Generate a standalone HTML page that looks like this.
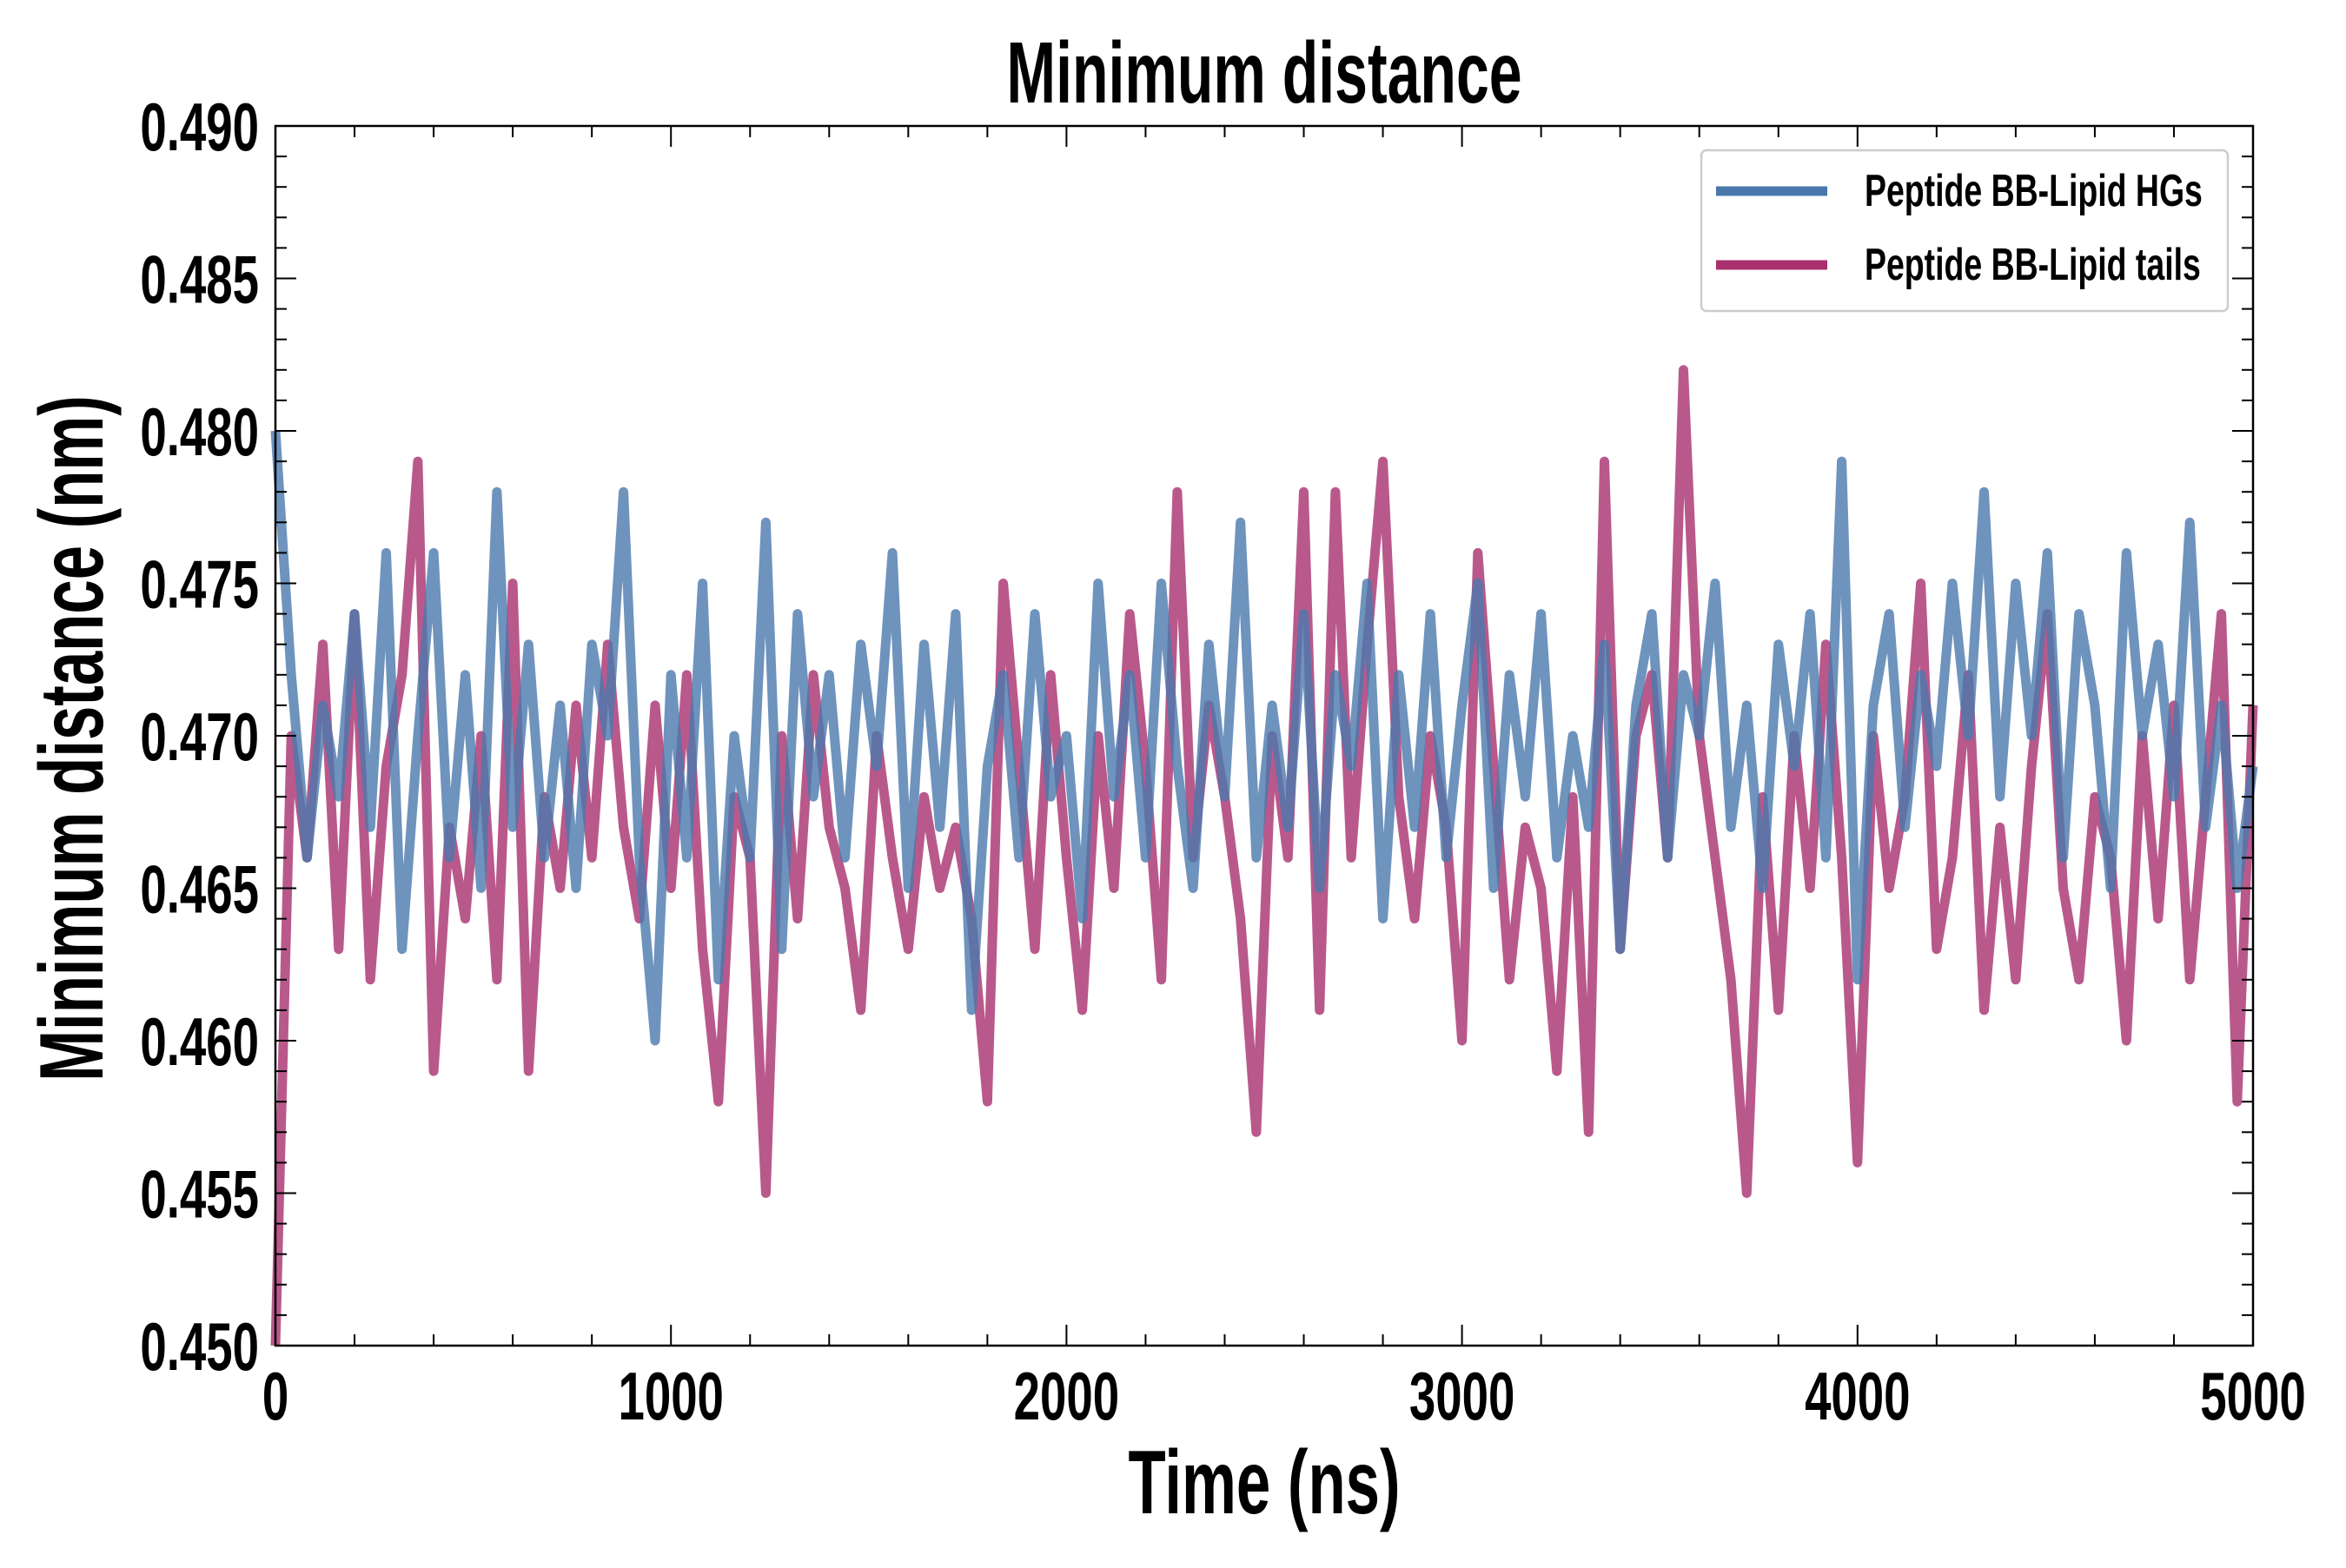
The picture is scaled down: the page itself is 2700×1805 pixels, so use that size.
<!DOCTYPE html>
<html><head><meta charset="utf-8"><style>
html,body{margin:0;padding:0;background:#fff;}
svg text{font-family:"Liberation Sans Narrow","Liberation Sans",sans-serif;font-weight:bold;fill:#000;}
</style></head><body>
<svg id="chart" width="2700" height="1800" viewBox="0 0 2700 1800" xmlns="http://www.w3.org/2000/svg">
<rect width="2700" height="1800" fill="#fff"/>
<g id="series"></g>
<g id="ticks"></g>
<rect x="317" y="145" width="2276" height="1404" fill="none" stroke="#000" stroke-width="2.5"/>
<g transform="translate(1455,118) scale(0.68,1)"><text x="0" y="0" font-size="100" text-anchor="middle">Minimum distance</text></g>
<g transform="translate(1455,1742) scale(0.68,1)"><text x="0" y="0" font-size="104" text-anchor="middle">Time (ns)</text></g>
<g transform="translate(118,850) rotate(-90) scale(0.68,1)"><text x="0" y="0" font-size="104" text-anchor="middle">Minimum distance (nm)</text></g>
<g transform="translate(-12,0)">
<rect x="1970" y="173" width="606" height="185" rx="6" fill="#fff" stroke="#ccc" stroke-width="2.5"/>
<line x1="1987" y1="220" x2="2115" y2="220" stroke="#4a78ad" stroke-width="11"/>
<g transform="translate(2158,237) scale(0.72,1)"><text x="0" y="0" font-size="52">Peptide BB-Lipid HGs</text></g>
<line x1="1987" y1="305" x2="2115" y2="305" stroke="#a8306e" stroke-width="11"/>
<g transform="translate(2158,322) scale(0.72,1)"><text x="0" y="0" font-size="52">Peptide BB-Lipid tails</text></g>
</g>
</svg>
<script>
const timeStep = 40;
const hgsValues = [0.480,0.472,0.466,0.471,0.468,0.474,0.467,0.476,0.463,0.470,0.476,0.466,0.472,0.465,0.478,0.467,0.473,0.466,0.471,0.465,0.473,0.470,0.478,0.466,0.460,0.472,0.466,0.475,0.462,0.470,0.466,0.477,0.463,0.474,0.468,0.472,0.466,0.473,0.469,0.476,0.465,0.473,0.467,0.474,0.461,0.469,0.472,0.466,0.474,0.468,0.470,0.464,0.475,0.468,0.472,0.466,0.475,0.469,0.465,0.473,0.468,0.477,0.466,0.471,0.467,0.474,0.465,0.472,0.469,0.475,0.464,0.472,0.467,0.474,0.466,0.471,0.475,0.465,0.472,0.468,0.474,0.466,0.470,0.467,0.473,0.463,0.471,0.474,0.466,0.472,0.470,0.475,0.467,0.471,0.465,0.473,0.469,0.474,0.466,0.479,0.462,0.471,0.474,0.467,0.472,0.469,0.475,0.470,0.478,0.468,0.475,0.470,0.476,0.466,0.474,0.471,0.465,0.476,0.470,0.473,0.468,0.477,0.467,0.471,0.465,0.469];
const tailsValues = [0.450,0.470,0.466,0.473,0.463,0.474,0.462,0.469,0.472,0.479,0.459,0.467,0.464,0.470,0.462,0.475,0.459,0.468,0.465,0.471,0.466,0.473,0.467,0.464,0.471,0.465,0.472,0.463,0.458,0.468,0.466,0.455,0.470,0.464,0.472,0.467,0.465,0.461,0.470,0.466,0.463,0.468,0.465,0.467,0.464,0.458,0.475,0.469,0.463,0.472,0.466,0.461,0.470,0.465,0.474,0.469,0.462,0.478,0.466,0.471,0.468,0.464,0.457,0.470,0.466,0.478,0.461,0.478,0.466,0.473,0.479,0.468,0.464,0.470,0.467,0.460,0.476,0.469,0.462,0.467,0.465,0.459,0.468,0.457,0.479,0.463,0.470,0.472,0.466,0.482,0.470,0.466,0.462,0.455,0.468,0.461,0.470,0.465,0.473,0.466,0.456,0.470,0.465,0.468,0.475,0.463,0.466,0.472,0.461,0.467,0.462,0.469,0.474,0.465,0.462,0.468,0.466,0.460,0.470,0.464,0.471,0.462,0.468,0.474,0.458,0.471];
const xTickLabels = ["0","1000","2000","3000","4000","5000"];
const yTickLabels = ["0.450","0.455","0.460","0.465","0.470","0.475","0.480","0.485","0.490"];

const X0=317,X1=2593,Y0=1549,Y1=145,XMIN=0,XMAX=5000,YMIN=0.450,YMAX=0.490;
function xs(v){return X0+(v-XMIN)/(XMAX-XMIN)*(X1-X0);}
function ys(v){return Y0-(v-YMIN)/(YMAX-YMIN)*(Y0-Y1);}
const NS="http://www.w3.org/2000/svg";
const sg=document.getElementById('series'), tg=document.getElementById('ticks');
function line(vals,color,name){
  const p=document.createElementNS(NS,'path');
  
  
  p.setAttribute('d',vals.map((v,i)=>(i?'L':'M')+xs(i*timeStep).toFixed(1)+','+ys(v).toFixed(1)).join(''));
  p.setAttribute('fill','none');p.setAttribute('stroke',color);p.setAttribute('stroke-width','11');
  p.setAttribute('stroke-linejoin','round');p.setAttribute('opacity','0.8');
  sg.appendChild(p);
}
line(tailsValues,'#a8306e','series-lipid-tails');
line(hgsValues,'#4a78ad','series-lipid-hgs');
function tk(x1,y1,x2,y2){const l=document.createElementNS(NS,'line');
  l.setAttribute('x1',x1);l.setAttribute('y1',y1);l.setAttribute('x2',x2);l.setAttribute('y2',y2);
  l.setAttribute('stroke','#000');l.setAttribute('stroke-width','2');tg.appendChild(l);}
for(let v=0;v<=5000;v+=200){const x=xs(v),L=(v%1000===0)?24:13;tk(x,Y0,x,Y0-L);tk(x,Y1,x,Y1+L);}
for(let k=0;k<=40;k++){const y=ys(YMIN+k*0.001),L=(k%5===0)?24:13;tk(X0,y,X0+L,y);tk(X1,y,X1-L,y);}
function lab(s,x,y,anchor,name){
  const g=document.createElementNS(NS,'g');
  g.setAttribute('transform','translate('+x+','+y+') scale(0.7,1)');
  const t=document.createElementNS(NS,'text');
  
  
  t.setAttribute('x',0);t.setAttribute('y',0);t.setAttribute('font-size','78');t.setAttribute('text-anchor',anchor);
  t.textContent=s;g.appendChild(t);tg.appendChild(g);
}
xTickLabels.forEach(s=>lab(s,xs(+s),1634,'middle','x-tick-label'));
yTickLabels.forEach(s=>lab(s,298,ys(+s)+28,'end','y-tick-label'));
</script>
</body></html>
